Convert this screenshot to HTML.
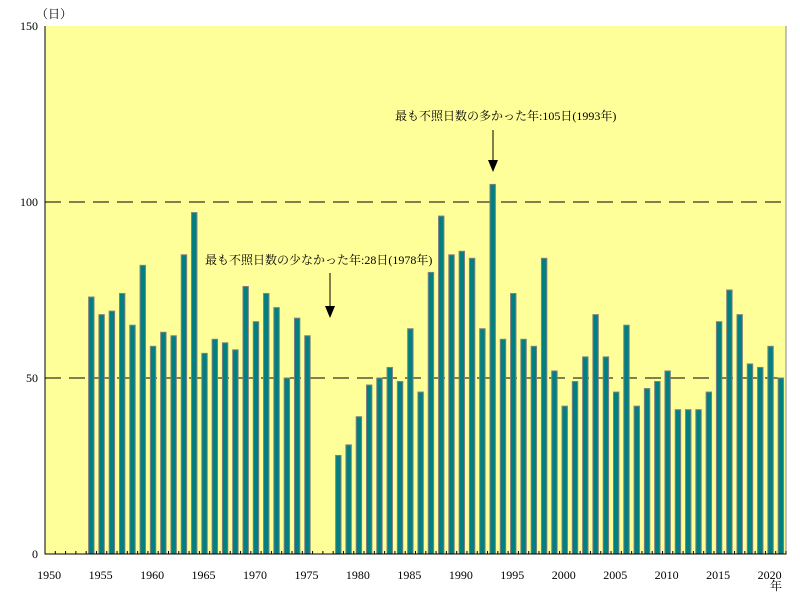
<!DOCTYPE html>
<html><head><meta charset="utf-8"><style>
body{margin:0;background:#fff;}
svg text{font-family:"Liberation Serif","Noto Serif CJK JP",serif;fill:#000;}
</style></head><body>
<svg id="chart" width="800" height="600" viewBox="0 0 800 600" xmlns="http://www.w3.org/2000/svg">
<rect x="45" y="26" width="741" height="528" fill="#ffff99"/>
<g id="grid"></g>
<g id="bars"></g>
<g id="axes"></g>
<text x="36" y="18" font-size="12">（日）</text>
<text x="770" y="590" font-size="12">年</text>
<text x="395" y="120" font-size="12">最も不照日数の多かった年:105日(1993年)</text>
<line x1="493" y1="130" x2="493" y2="162" stroke="#000"/>
<polygon points="488,160 498,160 493,172" fill="#000"/>
<text x="205" y="264" font-size="12">最も不照日数の少なかった年:28日(1978年)</text>
<line x1="330" y1="273" x2="330" y2="308" stroke="#000"/>
<polygon points="325,306 335,306 330,318" fill="#000"/>
</svg>
<script>
const years = [];
for (let y = 1950; y <= 2021; y++) years.push(y);
const values = [null,null,null,null,73,68,69,74,65,82,59,63,62,85,97,57,61,60,58,76,66,74,70,50,67,62,null,null,28,31,39,48,50,53,49,64,46,80,96,85,86,84,64,105,61,74,61,59,84,52,42,49,56,68,56,46,65,42,47,49,52,41,41,41,46,66,75,68,54,53,59,50];
const yTicks = [0,50,100,150];
const xTickLabels = [1950,1955,1960,1965,1970,1975,1980,1985,1990,1995,2000,2005,2010,2015,2020];
const NS='http://www.w3.org/2000/svg';
const X0=45,X1=786,Y0=554,Y1=26;
const bw=(X1-X0)/years.length;
function xs(yr){return X0+(yr-years[0])*bw;}
function ys(v){return Y0-(v/150)*(Y0-Y1);}
function mk(tag,attrs,parent){const e=document.createElementNS(NS,tag);for(const k in attrs)e.setAttribute(k,attrs[k]);parent.appendChild(e);return e;}
const grid=document.getElementById('grid'),bars=document.getElementById('bars'),axes=document.getElementById('axes');
[50,100].forEach(v=>{
  const l=mk('line',{x1:X0,x2:X1,y1:ys(v),y2:ys(v),stroke:'#000','stroke-dasharray':'16,8'},grid);
  
  
});
years.forEach((yr,i)=>{
  const v=values[i]; if(v==null) return;
  const r=mk('rect',{x:xs(yr)+bw/2-2.7,y:ys(v),width:5.4,height:Y0-ys(v),fill:'#008080',stroke:'#808080','stroke-width':1},bars);
  
  
});
const ax=mk('path',{d:`M${X0},${Y1}V${Y0}H${X1}V${Y1}`,fill:'none',stroke:'#000'},axes);


const rb=mk('line',{x1:X1,x2:X1,y1:Y1,y2:Y0,stroke:'#888'},axes);


for(let i=0;i<=years.length;i++){
  const t=mk('line',{x1:X0+i*bw,x2:X0+i*bw,y1:Y0,y2:Y0-3,stroke:'#000'},axes);
  
  
}
yTicks.forEach(v=>{
  const t=mk('text',{x:38,y:ys(v)+4,'font-size':12,'text-anchor':'end'},axes);
  t.textContent=v;
  
  
});
xTickLabels.forEach(yr=>{
  const t=mk('text',{x:xs(yr)+bw/2-1,y:579,'font-size':12,'text-anchor':'middle'},axes);
  t.textContent=yr;
  
  
});
</script>
</body></html>
